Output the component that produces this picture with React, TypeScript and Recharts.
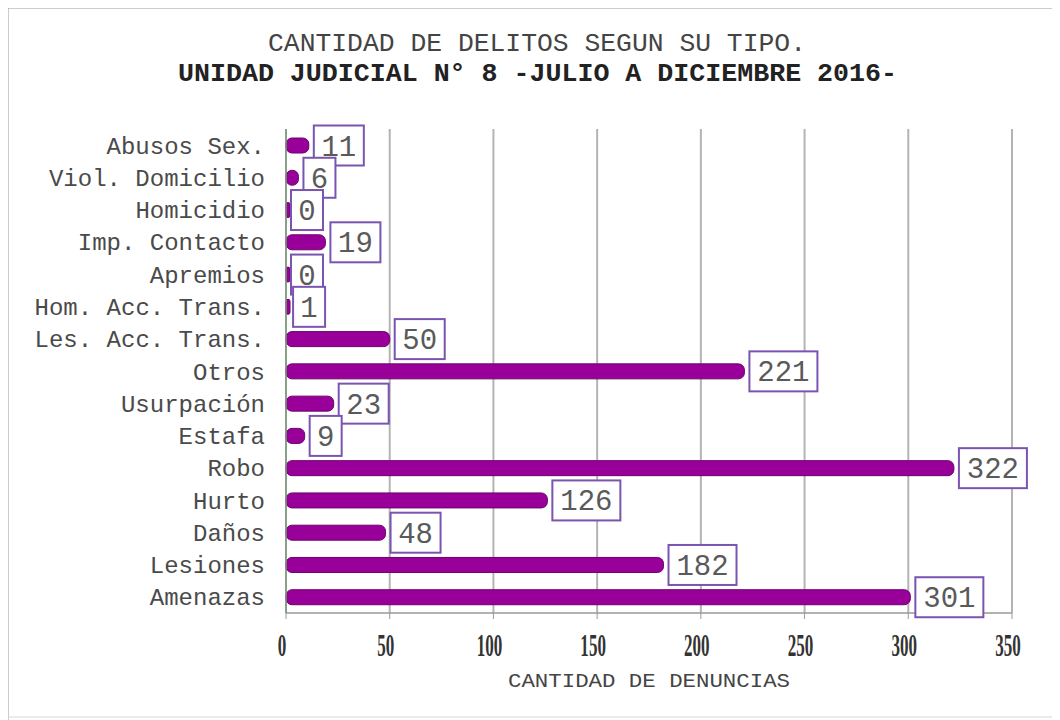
import React from "react";
import { BarChart, Bar, XAxis, YAxis, CartesianGrid, LabelList } from "recharts";

const categories = [
  "Abusos Sex.",
  "Viol. Domicilio",
  "Homicidio",
  "Imp. Contacto",
  "Apremios",
  "Hom. Acc. Trans.",
  "Les. Acc. Trans.",
  "Otros",
  "Usurpación",
  "Estafa",
  "Robo",
  "Hurto",
  "Daños",
  "Lesiones",
  "Amenazas",
];
const values = [11, 6, 0, 19, 0, 1, 50, 221, 23, 9, 322, 126, 48, 182, 301];
const xTicks = [0, 50, 100, 150, 200, 250, 300, 350];
const titleLine1 = "CANTIDAD DE DELITOS SEGUN SU TIPO.";
const titleLine2 = "UNIDAD JUDICIAL N° 8 -JULIO A DICIEMBRE 2016-";
const xAxisTitle = "CANTIDAD DE DENUNCIAS";

const data = categories.map((name, i) => ({ name, value: values[i] }));

const MONO = "'Liberation Mono', 'Courier New', monospace";

const BarShape = (props: any) => {
  const { x, y, width, height } = props;
  const w = Math.max(width, 4);
  const r = Math.min(6, w / 2);
  return (
    <rect
      x={x}
      y={y}
      width={w}
      height={height}
      rx={r}
      ry={r}
      fill="#990099"
      stroke="#6e006e"
      strokeWidth={1}
    />
  );
};

const ValueLabel = (props: any) => {
  const { x, y, width, height, value } = props;
  const s = String(value);
  const bw = 14 + s.length * 18;
  const bh = 40;
  const bx = x + Math.max(width, 0) + 5;
  const cy = y + height / 2;
  return (
    <g>
      <rect
        x={bx}
        y={cy - bh / 2}
        width={bw}
        height={bh}
        fill="#ffffff"
        stroke="#7a55b0"
        strokeWidth={2}
      />
      <text
        x={bx + bw / 2}
        y={cy + 10}
        textAnchor="middle"
        fontFamily={MONO}
        fontSize={29}
        fill="#5a5a5a"
      >
        {s}
      </text>
    </g>
  );
};

const XTick = (props: any) => {
  const { x, y, payload } = props;
  return (
    <g transform={`translate(${x - 4},${y + 35}) scale(0.55,1)`}>
      <text
        x={0}
        y={0}
        textAnchor="middle"
        fontFamily="'Liberation Serif', serif"
        fontWeight="bold"
        fontSize={31}
        fill="#333"
      >
        {payload.value}
      </text>
    </g>
  );
};

export default function App() {
  return (
    <div style={{ position: "relative", width: 1044, height: 712, background: "#fff" }}>
      <BarChart
        width={1044}
        height={712}
        data={data}
        layout="vertical"
        margin={{ top: 121, right: 40, bottom: 67, left: 0 }}
        barCategoryGap={0}
      >
        <CartesianGrid horizontal={false} vertical={true} stroke="#b4b4b4" strokeWidth={2} />
        <XAxis
          type="number"
          domain={[0, 350]}
          ticks={xTicks}
          height={40}
          axisLine={{ stroke: "#999", strokeWidth: 1.5 }}
          tickLine={{ stroke: "#999" }}
          tick={<XTick />}
          interval={0}
        />
        <YAxis
          type="category"
          dataKey="name"
          width={278}
          axisLine={{ stroke: "#7a9a7a", strokeWidth: 1.5 }}
          tickLine={false}
          tickMargin={15}
          interval={0}
          tick={{ fontFamily: MONO, fontSize: 24, fill: "#4a4a4a" }}
        />
        <Bar dataKey="value" barSize={15} shape={<BarShape />} isAnimationActive={false}>
          <LabelList dataKey="value" content={<ValueLabel />} />
        </Bar>
      </BarChart>
      <svg
        width={1060}
        height={720}
        style={{ position: "absolute", left: -8, top: -8, pointerEvents: "none" }}
      >
        <line x1={7} y1={7} x2={1060} y2={7} stroke="#9a9a9a" strokeWidth={3} />
        <line x1={7} y1={7} x2={7} y2={720} stroke="#9a9a9a" strokeWidth={3} />
        <line x1={7} y1={717} x2={1060} y2={717} stroke="#d8d8d8" strokeWidth={1} />
        <text
          x={268}
          y={51}
          textLength={538}
          lengthAdjust="spacingAndGlyphs"
          fontFamily={MONO}
          fontSize={25}
          fill="#444"
        >
          {titleLine1}
        </text>
        <text
          x={178}
          y={81}
          textLength={719}
          lengthAdjust="spacingAndGlyphs"
          fontFamily={MONO}
          fontWeight="bold"
          fontSize={25}
          fill="#222"
        >
          {titleLine2}
        </text>
        <text
          x={508}
          y={687}
          textLength={282}
          lengthAdjust="spacingAndGlyphs"
          fontFamily={MONO}
          fontSize={20}
          fill="#444"
        >
          {xAxisTitle}
        </text>
      </svg>
    </div>
  );
}
